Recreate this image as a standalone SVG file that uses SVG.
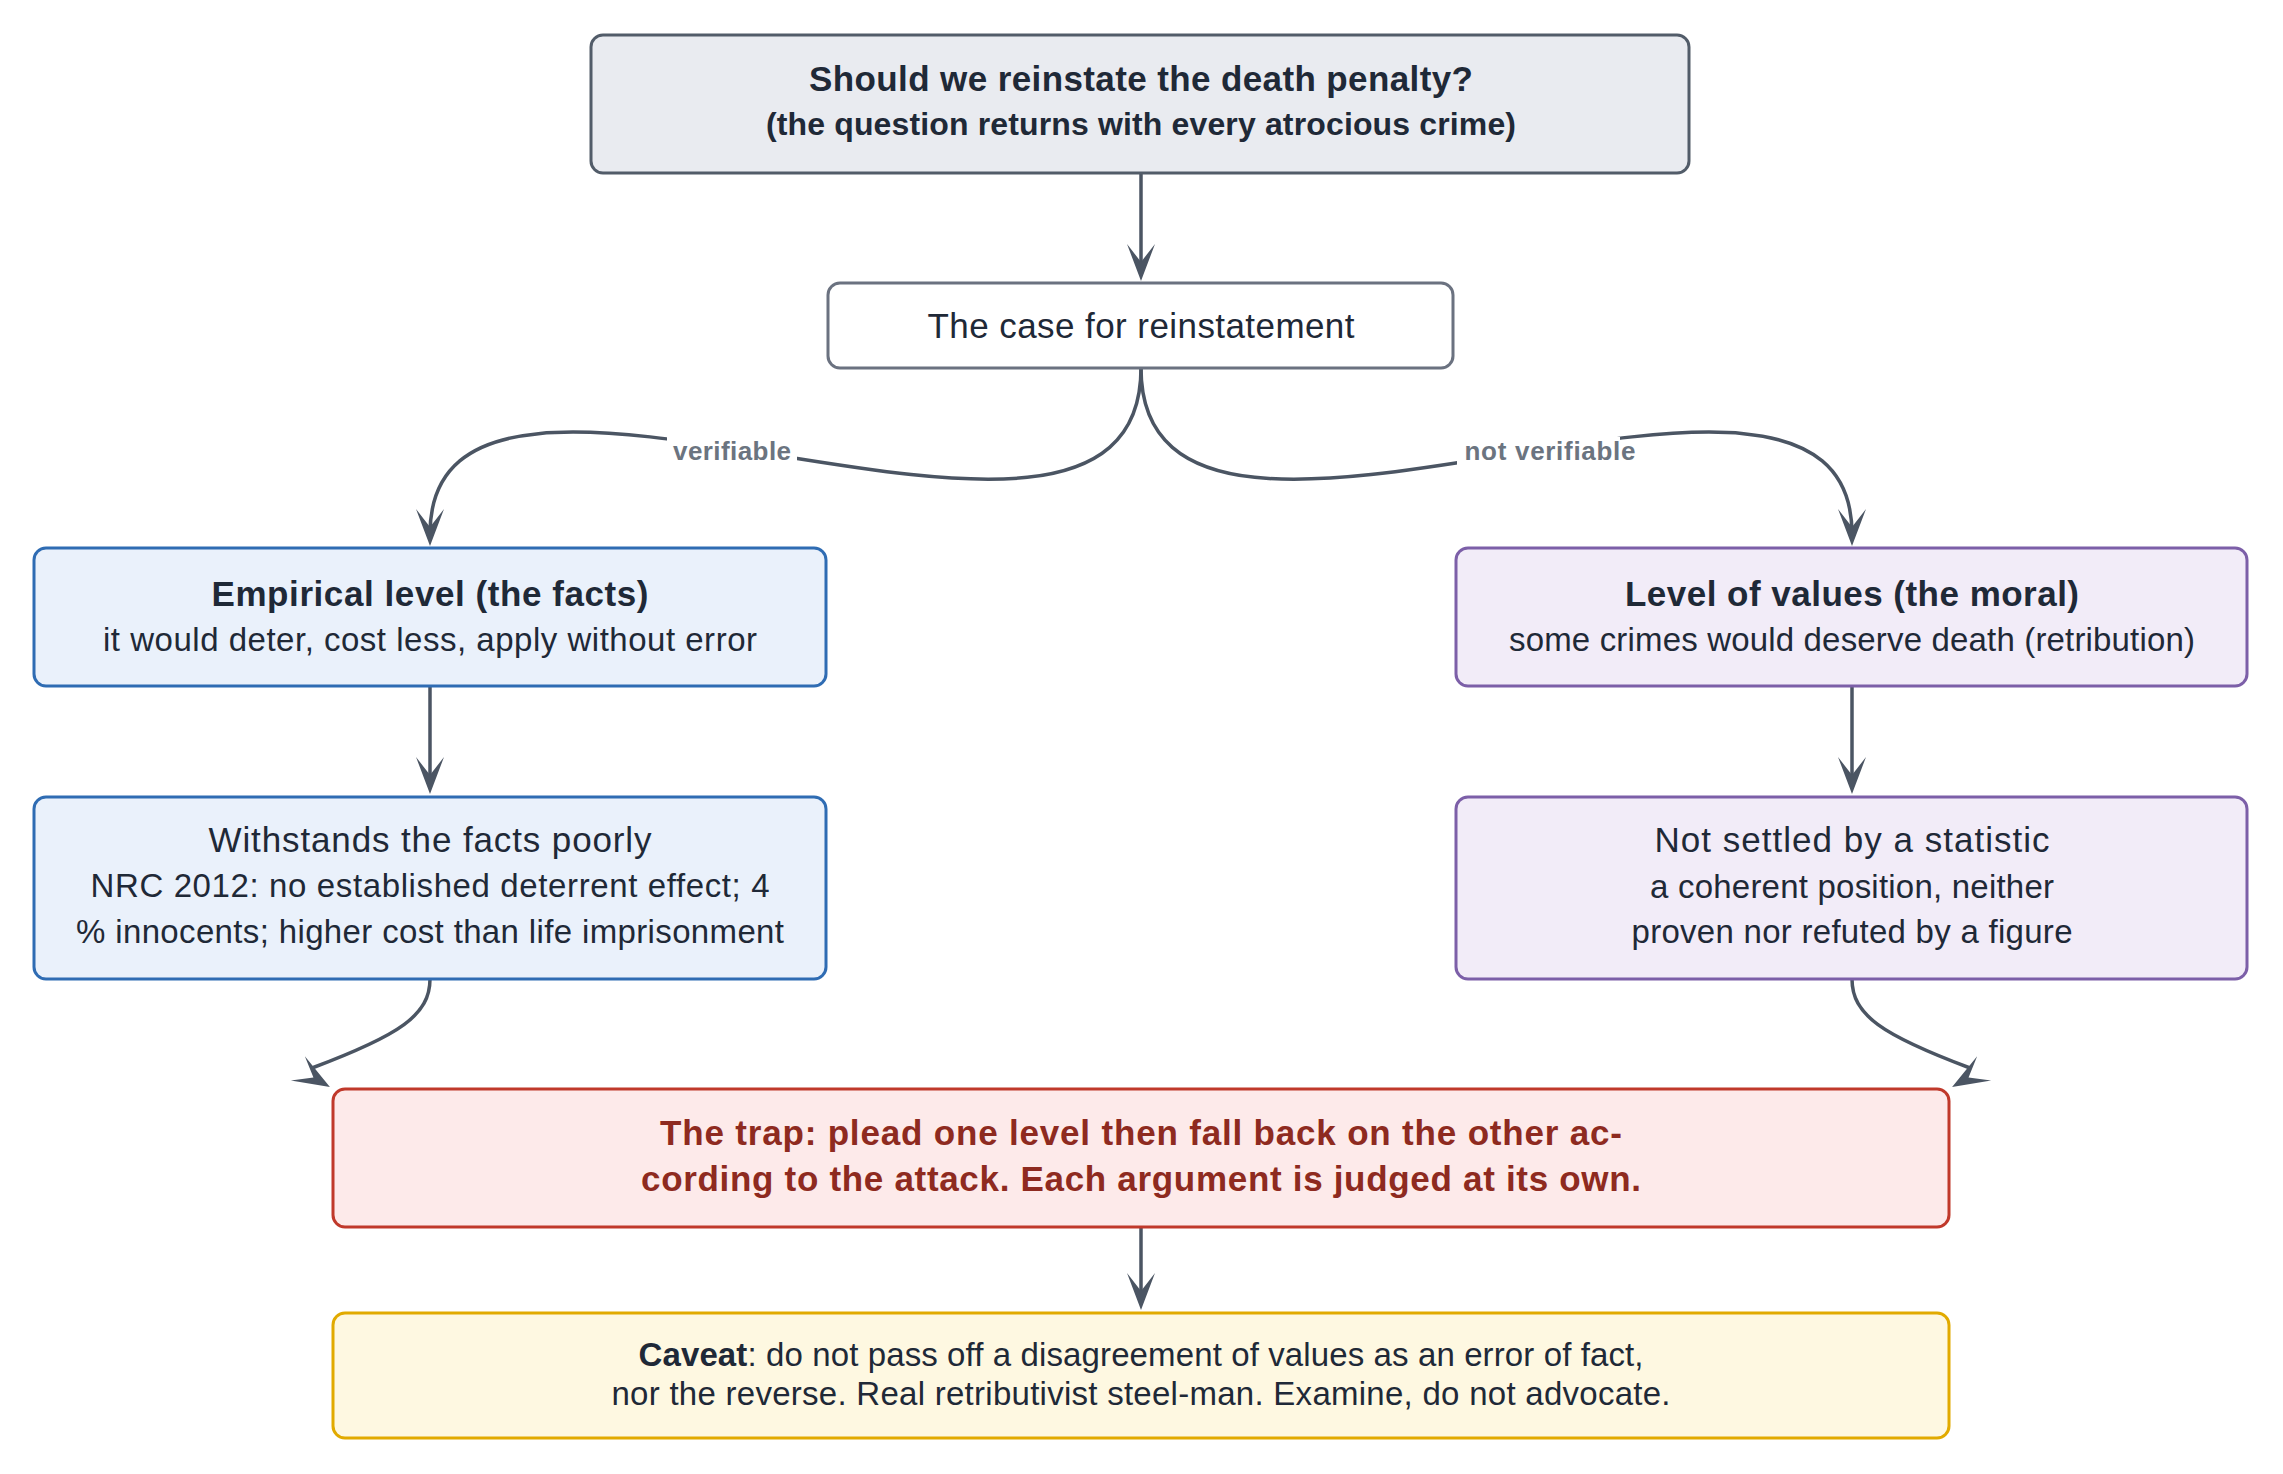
<svg xmlns="http://www.w3.org/2000/svg" width="2283" height="1474" viewBox="0 0 2283 1474">
<style>
.box{stroke-width:3}
.t{font-family:"Liberation Sans",Arial,sans-serif;fill:#1f2937;text-anchor:middle}
.b{font-weight:bold}
.h{font-size:35px}
.s{font-size:33px}
.lbl{font-family:"Liberation Sans",Arial,sans-serif;font-size:26px;font-weight:bold;fill:#6b7480;text-anchor:middle}
.c{fill:none;stroke:#4b5563;stroke-width:3.5}
</style>
<defs>
<marker id="ah" markerUnits="userSpaceOnUse" markerWidth="50" markerHeight="40" viewBox="-45 -20 50 40" refX="-12" refY="0" orient="auto" overflow="visible"><path d="M0,0 L-37,-14 L-19,0 L-37,14 Z" fill="#4b5563"/></marker>
<marker id="ahL" markerUnits="userSpaceOnUse" markerWidth="50" markerHeight="40" viewBox="-45 -20 50 40" refX="-25" refY="-7.5" orient="30" overflow="visible"><path d="M0,0 L-37,-14 L-19,0 L-37,14 Z" fill="#4b5563"/></marker>
<marker id="ahR" markerUnits="userSpaceOnUse" markerWidth="50" markerHeight="40" viewBox="-45 -20 50 40" refX="-25" refY="7.5" orient="150" overflow="visible"><path d="M0,0 L-37,-14 L-19,0 L-37,14 Z" fill="#4b5563"/></marker>
</defs>
<rect width="2283" height="1474" fill="#ffffff"/>
<g id="connectors">
<path class="c" d="M1141,173 L1141,269" marker-end="url(#ah)"/>
<path class="c" d="M1141,368 C1141,656 430,261 430,534" marker-end="url(#ah)"/>
<path class="c" d="M1141,368 C1141,656 1852,261 1852,534" marker-end="url(#ah)"/>
<path class="c" d="M430,686 L430,782" marker-end="url(#ah)"/>
<path class="c" d="M1852,686 L1852,782" marker-end="url(#ah)"/>
<path class="c" d="M430,979 C430,1015 400,1035 312,1068" marker-end="url(#ahL)"/>
<path class="c" d="M1852,979 C1852,1015 1882,1035 1970,1068" marker-end="url(#ahR)"/>
<path class="c" d="M1141,1227 L1141,1298" marker-end="url(#ah)"/>
<rect x="667" y="437" width="130" height="38" fill="#ffffff"/>
<text class="lbl" x="732" y="460" textLength="118">verifiable</text>
<rect x="1457" y="437" width="163" height="38" fill="#ffffff"/>
<text class="lbl" x="1550" y="460" textLength="171">not verifiable</text>
</g>
<g id="n-question">
<rect class="box" x="591" y="35" width="1098" height="138" rx="12" fill="#e9ebf0" stroke="#525c69"/>
<text class="t b h" x="1141" y="91" textLength="664">Should we reinstate the death penalty?</text>
<text class="t b" x="1141" y="135" font-size="32" textLength="750">(the question returns with every atrocious crime)</text>
</g>
<g id="n-case">
<rect class="box" x="828" y="283" width="625" height="85" rx="12" fill="#ffffff" stroke="#6b7280"/>
<text class="t h" x="1141" y="338" textLength="427">The case for reinstatement</text>
</g>
<g id="n-empirical">
<rect class="box" x="34" y="548" width="792" height="138" rx="12" fill="#eaf1fb" stroke="#2f6cb3"/>
<text class="t b h" x="430" y="606" textLength="437">Empirical level (the facts)</text>
<text class="t s" x="430" y="651" textLength="654">it would deter, cost less, apply without error</text>
</g>
<g id="n-facts">
<rect class="box" x="34" y="797" width="792" height="182" rx="12" fill="#eaf1fb" stroke="#2f6cb3"/>
<text class="t h" x="430" y="852" textLength="443">Withstands the facts poorly</text>
<text class="t s" x="430" y="897" textLength="679">NRC 2012: no established deterrent effect; 4</text>
<text class="t s" x="430" y="943" textLength="708">% innocents; higher cost than life imprisonment</text>
</g>
<g id="n-values">
<rect class="box" x="1456" y="548" width="791" height="138" rx="12" fill="#f2ecf8" stroke="#7c5fa8"/>
<text class="t b h" x="1852" y="606" textLength="454">Level of values (the moral)</text>
<text class="t s" x="1852" y="651" textLength="686">some crimes would deserve death (retribution)</text>
</g>
<g id="n-moral">
<rect class="box" x="1456" y="797" width="791" height="182" rx="12" fill="#f2ecf8" stroke="#7c5fa8"/>
<text class="t h" x="1852" y="852" textLength="395">Not settled by a statistic</text>
<text class="t s" x="1852" y="898" textLength="404">a coherent position, neither</text>
<text class="t s" x="1852" y="943" textLength="441">proven nor refuted by a figure</text>
</g>
<g id="n-trap">
<rect class="box" x="333" y="1089" width="1616" height="138" rx="12" fill="#fdeaea" stroke="#c0392b"/>
<text class="t b h" x="1141" y="1145" fill="#8e2a20" style="fill:#8e2a20" textLength="962">The trap: plead one level then fall back on the other ac-</text>
<text class="t b h" x="1141" y="1191" style="fill:#8e2a20" textLength="1000">cording to the attack. Each argument is judged at its own.</text>
</g>
<g id="n-caveat">
<rect class="box" x="333" y="1313" width="1616" height="125" rx="12" fill="#fef8e1" stroke="#e1aa00"/>
<text class="t s" x="1141" y="1366" textLength="1005"><tspan font-weight="bold">Caveat</tspan>: do not pass off a disagreement of values as an error of fact,</text>
<text class="t s" x="1141" y="1405" textLength="1059">nor the reverse. Real retributivist steel-man. Examine, do not advocate.</text>
</g>
</svg>
